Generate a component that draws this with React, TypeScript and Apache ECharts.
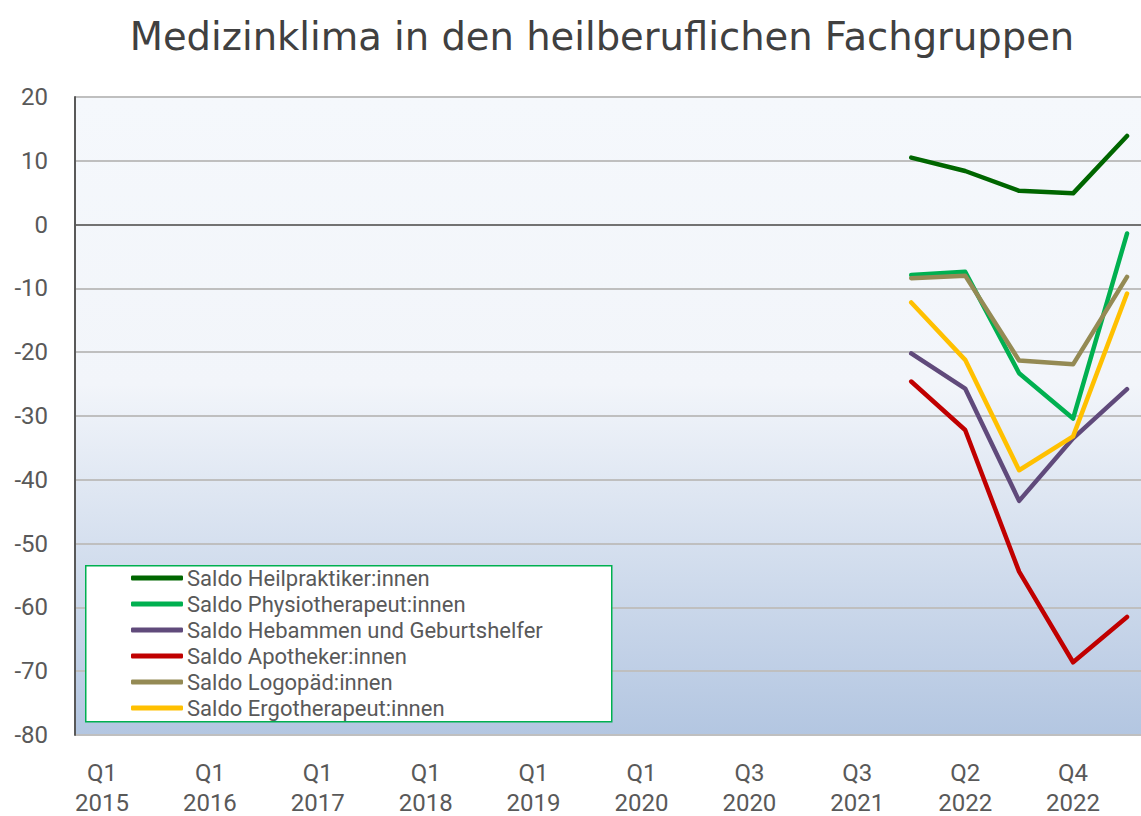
import React, { useEffect, useRef } from "react";
import * as echarts from "echarts";

const categories = [
  "Q1 2015", "Q3 2015", "Q1 2016", "Q3 2016", "Q1 2017", "Q3 2017", "Q1 2018", "Q3 2018",
  "Q1 2019", "Q3 2019", "Q1 2020", "Q2 2020", "Q3 2020", "Q1 2021", "Q3 2021", "Q1 2022",
  "Q2 2022", "Q3 2022", "Q4 2022", "Q1 2023",
];

const pad = [null, null, null, null, null, null, null, null, null, null, null, null, null, null, null];

const heilpraktiker = [...pad, 10.5, 8.4, 5.3, 4.9, 13.9];
const physio = [...pad, -7.9, -7.4, -23.3, -30.4, -1.4];
const hebammen = [...pad, -20.2, -25.7, -43.3, -33.5, -25.8];
const apotheker = [...pad, -24.6, -32.2, -54.4, -68.6, -61.5];
const logopaed = [...pad, -8.4, -8.0, -21.3, -21.9, -8.2];
const ergo = [...pad, -12.2, -21.2, -38.5, -33.2, -10.8];

const seriesNames = [
  "Saldo Heilpraktiker:innen",
  "Saldo Physiotherapeut:innen",
  "Saldo Hebammen und Geburtshelfer",
  "Saldo Apotheker:innen",
  "Saldo Logopäd:innen",
  "Saldo Ergotherapeut:innen",
];
const seriesData = [heilpraktiker, physio, hebammen, apotheker, logopaed, ergo];
const seriesColors = ["#006600", "#00b050", "#604a7b", "#c00000", "#948a54", "#ffc000"];

const FONT = "Roboto, 'DejaVu Sans', sans-serif";

export default function App() {
  const ref = useRef<HTMLDivElement>(null);
  useEffect(() => {
    if (!ref.current) return;
    const chart = echarts.init(ref.current, undefined, { renderer: "svg" });
    const series: any[] = seriesNames.map((name, i) => ({
      name,
      type: "line",
      data: seriesData[i],
      showSymbol: false,
      symbol: "none",
      connectNulls: false,
      lineStyle: { color: seriesColors[i], width: 4.5, cap: "round", join: "round" },
      itemStyle: { color: seriesColors[i] },
      z: 3,
    }));
    series[0].markLine = {
      silent: true,
      symbol: "none",
      label: { show: false },
      lineStyle: { color: "#595959", width: 1.5, type: "solid" },
      data: [{ yAxis: 0 }],
      z: 2,
    };
    chart.setOption({
      animation: false,
      backgroundColor: "#ffffff",
      textStyle: { fontFamily: FONT },
      title: {
        text: "Medizinklima in den heilberuflichen Fachgruppen",
        left: 597,
        textAlign: "center",
        top: 12,
        textStyle: { fontFamily: "'DejaVu Sans', sans-serif", fontSize: 38.5, fontWeight: "normal", color: "#404040" },
      },
      grid: {
        left: 75,
        right: -13,
        top: 97,
        height: 638,
        outerBoundsMode: "none",
        containLabel: false,
        show: true,
        borderWidth: 0,
        backgroundColor: new echarts.graphic.LinearGradient(0, 0, 0, 1, [
          { offset: 0, color: "#f5f8fc" },
          { offset: 0.45, color: "#f2f5fa" },
          { offset: 1, color: "#b3c6e1" },
        ]),
      },
      graphic: [
        {
          type: "rect",
          left: 85,
          top: 565,
          shape: { width: 526, height: 156 },
          style: { fill: "#ffffff", stroke: "#00b050", lineWidth: 1.5 },
          z: 5,
        },
      ],
      legend: {
        orient: "vertical",
        left: 131,
        top: 567,
        itemWidth: 52,
        itemHeight: 5,
        itemGap: 4,
        icon: "roundRect",
        padding: 0,
        z: 6,
        textStyle: { fontFamily: FONT, fontSize: 22, color: "#595959", padding: [0, 0, 0, -1] },
        data: seriesNames,
      },
      xAxis: {
        type: "category",
        data: categories,
        boundaryGap: true,
        axisLine: { show: false },
        axisTick: { show: false },
        splitLine: { show: false },
        axisLabel: {
          interval: 1,
          margin: 21,
          color: "#595959",
          fontFamily: FONT,
          formatter: (v: string) => {
            const parts = v.split(" ");
            return "{q|" + parts[0] + "}\n{y|" + parts[1] + "}";
          },
          rich: {
            q: { fontSize: 24, lineHeight: 34, color: "#595959", fontFamily: FONT },
            y: { fontSize: 24, lineHeight: 26, color: "#595959", fontFamily: FONT },
          },
        },
      },
      yAxis: {
        type: "value",
        min: -80,
        max: 20,
        interval: 10,
        axisLine: { show: true, lineStyle: { color: "#595959", width: 2 } },
        axisTick: { show: false },
        splitLine: { show: true, lineStyle: { color: "#bfbfbf", width: 2 } },
        axisLabel: { fontSize: 24, color: "#595959", margin: 27, fontFamily: FONT },
      },
      series,
    });
    return () => chart.dispose();
  }, []);
  return (
    <div style={{ position: "absolute", left: 0, top: 0, width: 1141, height: 816, overflow: "hidden" }}>
      <div ref={ref} style={{ width: 1141, height: 816, overflow: "hidden" }} />
    </div>
  );
}
